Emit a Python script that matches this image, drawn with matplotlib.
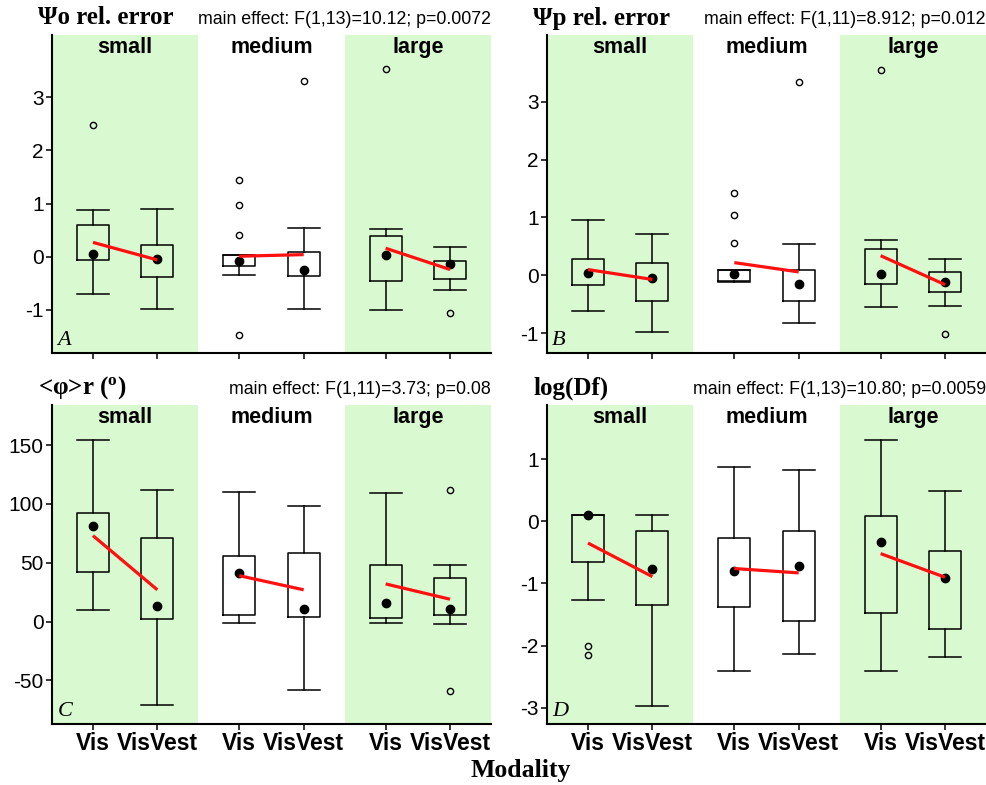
import matplotlib
matplotlib.use('Agg')
import matplotlib.pyplot as plt

plt.rcParams['axes.unicode_minus'] = False

groups = ['small', 'medium', 'large']
modalities = ['Vis', 'VisVest']

# box summary per box: (lower whisker, q1, q3, upper whisker)
# order: small Vis, small VisVest, medium Vis, medium VisVest, large Vis, large VisVest
a_boxes = [(-0.70, -0.07, 0.60, 0.88), (-0.99, -0.38, 0.23, 0.89),
           (-0.35, -0.18, 0.03, 0.03), (-0.99, -0.36, 0.09, 0.54),
           (-1.00, -0.46, 0.39, 0.52), (-0.63, -0.42, -0.08, 0.19)]
a_fliers = [[2.47], [], [1.45, 0.97, 0.40, -1.47], [3.31], [3.53], [-1.05]]
a_means = [0.06, -0.04, -0.08, -0.24, 0.03, -0.14]
a_red = [(0.27, -0.06), (0.01, 0.04), (0.16, -0.24)]

b_boxes = [(-0.61, -0.17, 0.29, 0.95), (-0.97, -0.44, 0.22, 0.72),
           (-0.11, -0.10, 0.09, 0.09), (-0.82, -0.45, 0.09, 0.55),
           (-0.54, -0.15, 0.45, 0.61), (-0.52, -0.28, 0.05, 0.28)]
b_fliers = [[], [], [1.42, 1.05, 0.56], [3.33], [3.55], [-1.02]]
b_means = [0.04, -0.04, 0.02, -0.15, 0.02, -0.12]
b_red = [(0.10, -0.07), (0.22, 0.06), (0.34, -0.16)]

c_boxes = [(10, 42, 92, 154), (-71, 2, 71, 112),
           (-1.4, 6, 56, 110), (-58, 4, 58, 98),
           (-1, 3, 48, 109), (-2, 6, 37, 48)]
c_fliers = [[], [], [], [], [], [112, -59]]
c_means = [81, 13, 41, 10.5, 16, 10.5]
c_red = [(73, 27), (39, 27), (32, 19)]

d_boxes = [(-1.27, -0.65, 0.10, 0.10), (-2.97, -1.34, -0.15, 0.10),
           (-2.41, -1.38, -0.27, 0.88), (-2.13, -1.60, -0.15, 0.83),
           (-2.41, -1.48, 0.09, 1.31), (-2.18, -1.73, -0.47, 0.48)]
d_fliers = [[-2.0, -2.15], [], [], [], [], []]
d_means = [0.10, -0.76, -0.80, -0.72, -0.34, -0.91]
d_red = [(-0.35, -0.89), (-0.76, -0.83), (-0.52, -0.90)]

titles = ['Ψo rel. error', 'Ψp rel. error', '<φ>r ($\\mathregular{^{o}}$)', 'log(Df)']
effects = ['main effect: F(1,13)=10.12; p=0.0072',
           'main effect: F(1,11)=8.912; p=0.012',
           'main effect: F(1,11)=3.73; p=0.08',
           'main effect: F(1,13)=10.80; p=0.0059']
letters = ['A', 'B', 'C', 'D']

fig = plt.figure(figsize=(9.86, 7.85), dpi=100)
W, H = 986, 785

def make_axes(l, t, r, b):
    return fig.add_axes([l / W, 1 - b / H, (r - l) / W, (b - t) / H])

axes = [make_axes(52, 35, 491, 353), make_axes(547, 35, 986, 353),
        make_axes(52, 405, 491, 724), make_axes(547, 405, 986, 724)]

panels = [(a_boxes, a_fliers, a_means, a_red, (-1.81, 4.17), [-1, 0, 1, 2, 3]),
          (b_boxes, b_fliers, b_means, b_red, (-1.34, 4.15), [-1, 0, 1, 2, 3]),
          (c_boxes, c_fliers, c_means, c_red, (-87, 184), [-50, 0, 50, 100, 150]),
          (d_boxes, d_fliers, d_means, d_red, (-3.26, 1.87), [-3, -2, -1, 0, 1])]

green = '#d9fad0'
positions = []
for g in range(3):
    positions += [3 * g + 0.84, 3 * g + 2.16]

for i, (ax, (boxes, fliers, means, red, ylim, yticks)) in enumerate(zip(axes, panels)):
    # background bands for small and large
    ax.axvspan(0, 3, color=green, lw=0, zorder=0)
    ax.axvspan(6, 9, color=green, lw=0, zorder=0)

    stats = []
    for (lo, q1, q3, hi), fl in zip(boxes, fliers):
        stats.append(dict(whislo=lo, q1=q1, med=q1, q3=q3, whishi=hi, fliers=fl))
    lp = dict(color='black', linewidth=1.1)
    ax.bxp(stats, positions=positions, widths=0.66, capwidths=0.66,
           boxprops=lp, whiskerprops=lp, capprops=lp,
           medianprops=dict(linewidth=0),
           flierprops=dict(marker='o', markersize=4.5, markerfacecolor='none',
                           markeredgecolor='black', markeredgewidth=1.0),
           manage_ticks=False, zorder=2)

    ax.plot(positions, means, 'o', color='black', markersize=6, zorder=3, linestyle='none')
    for g in range(3):
        ax.plot(positions[2 * g:2 * g + 2], red[g], color='#ff1010', lw=2.3,
                solid_capstyle='butt', zorder=4)

    ax.set_xlim(0, 9)
    ax.set_ylim(*ylim)
    ax.set_yticks(yticks)
    ax.set_xticks(positions)
    if i >= 2:
        ax.set_xticklabels(modalities * 3, fontsize=16.5, fontweight='bold',
                           family='Liberation Sans')
    else:
        ax.set_xticklabels([])
    for lab in ax.get_yticklabels():
        lab.set_family('Liberation Sans')
        lab.set_fontsize(15)
    ax.tick_params(axis='both', length=4, width=1.1, pad=2)
    ax.tick_params(axis='x', pad=2)
    for s in ['top', 'right']:
        ax.spines[s].set_visible(False)
    for s in ['left', 'bottom']:
        ax.spines[s].set_linewidth(1.5)
    ax.set_facecolor('white')

    xt = ax.get_xaxis_transform()
    for g, name in enumerate(groups):
        ax.text(3 * g + 1.5, 0.962, name, transform=xt, ha='center', va='center',
                fontsize=15.5, fontweight='bold', family='Liberation Sans', zorder=5)

    ax.annotate(titles[i], xy=(0, 1), xycoords='axes fraction', xytext=(-14, 17),
                textcoords='offset pixels', ha='left', va='center',
                fontsize=18, fontweight='bold', family='Liberation Serif')
    ax.annotate(effects[i], xy=(1, 1), xycoords='axes fraction', xytext=(0, 16),
                textcoords='offset pixels', ha='right', va='center',
                fontsize=12.8, family='Liberation Sans')
    ax.text(0.012, 0.01, letters[i], transform=ax.transAxes, ha='left', va='bottom',
            fontsize=16, style='italic', family='Liberation Serif', zorder=5)

fig.text(521 / W, 1 - 771 / H, 'Modality', ha='center', va='center',
         fontsize=18.5, fontweight='bold', family='Liberation Serif')

fig.savefig('out.png', dpi=100)
